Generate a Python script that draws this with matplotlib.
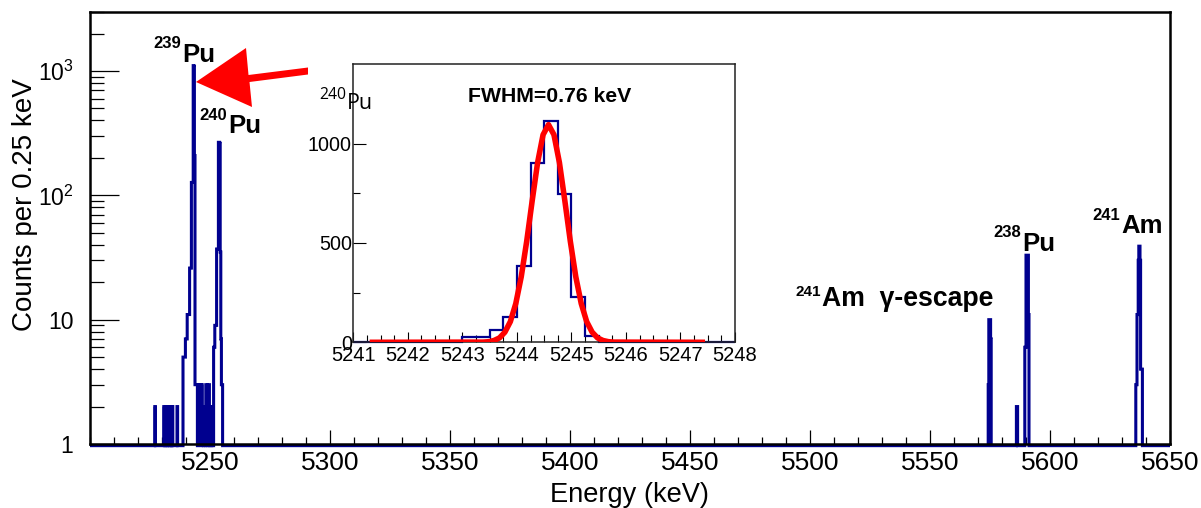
import numpy as np
import matplotlib
matplotlib.use("Agg")
import matplotlib.pyplot as plt
from matplotlib.ticker import FixedLocator, FixedFormatter, MultipleLocator, NullFormatter
from matplotlib.patches import Polygon

plt.rcParams['font.family'] = ['Liberation Sans', 'DejaVu Sans']
plt.rcParams['mathtext.fontset'] = 'custom'
plt.rcParams['mathtext.rm'] = 'Liberation Sans'
plt.rcParams['mathtext.it'] = 'Liberation Sans:italic'
plt.rcParams['mathtext.bf'] = 'Liberation Sans:bold'

# ---------------- data ----------------
bin_width_keV = 0.25
energy_min, energy_max = 5200.0, 5650.0

# main spectrum: left edge of every non-empty 0.25 keV bin and its counts
main_bin_start = [
    5227.00, 5230.75, 5231.50, 5232.25, 5233.00, 5233.75, 5234.25, 5236.25,
    5238.75, 5239.00, 5239.25, 5239.50, 5239.75, 5240.00, 5240.25,
    5240.50, 5240.75, 5241.00, 5241.25, 5241.50, 5241.75, 5242.00,
    5242.25, 5242.50, 5242.75, 5243.00, 5243.25, 5243.50, 5243.75, 5244.00,
    5244.25, 5244.50, 5245.00, 5245.25, 5245.50, 5245.75, 5246.00,
    5246.50, 5246.75, 5247.00, 5247.50, 5247.75, 5248.25, 5248.50,
    5248.75, 5249.25, 5249.50, 5250.00, 5250.25, 5250.75, 5251.00,
    5251.50, 5251.75, 5252.00, 5252.25, 5252.50, 5252.75, 5253.00, 5253.25,
    5253.50, 5253.75, 5254.00, 5254.25, 5254.50, 5254.75, 5255.00,
    5574.25, 5574.50, 5574.75, 5575.00, 5575.25,
    5586.00, 5586.25,
    5589.50, 5589.75, 5590.00, 5590.25, 5590.50, 5590.75, 5591.00,
    5635.75, 5636.00, 5636.25, 5636.50, 5636.75, 5637.00, 5637.25, 5637.50,
    5637.75, 5638.00, 5638.25,
]
main_bin_counts = [
    2, 2, 2, 2, 2, 2, 2, 2,
    5, 5, 5, 5, 7, 7, 7,
    11, 11, 11, 11, 26, 26, 26,
    127, 127, 127, 1105, 1090, 209, 3, 3,
    3, 3, 3, 3, 2, 3, 3,
    3, 2, 2, 2, 2, 3, 3,
    2, 3, 3, 2, 2, 2, 2,
    6, 6, 9, 9, 9, 37, 37, 37,
    267, 267, 262, 35, 7, 3, 3,
    3, 10, 10, 10, 7,
    2, 2,
    6, 6, 33, 33, 33, 33, 11,
    3, 3, 11, 11, 30, 39, 39, 30,
    4, 4, 4,
]

# inset: 239Pu peak, 0.25 keV bins
inset_min, inset_max = 5241.0, 5248.0
inset_bin_start = [5243.00, 5243.25, 5243.50, 5243.75, 5244.00,
                   5244.25, 5244.50, 5244.75, 5245.00, 5245.25]
inset_bin_counts = [28, 28, 62, 129, 384, 901, 1111, 745, 226, 34]

# red fit curve
fit_energy = [5241.30, 5243.38, 5243.48, 5243.58, 5243.68, 5243.78, 5243.88,
              5243.98, 5244.08, 5244.18, 5244.28, 5244.38, 5244.48, 5244.58,
              5244.68, 5244.78, 5244.88, 5244.98, 5245.08, 5245.18, 5245.28,
              5245.38, 5245.48, 5245.58, 5245.68, 5245.78, 5247.45]
fit_counts = [0, 1, 3, 9, 22, 51, 104, 195, 330, 508, 711, 904, 1044, 1095,
              1044, 904, 711, 508, 330, 195, 104, 51, 22, 9, 3, 1, 0]

main_xticks = [5250, 5300, 5350, 5400, 5450, 5500, 5550, 5600, 5650]
main_yticks = [1, 10, 100, 1000]
main_ytick_labels = ['1', '10', r'$10^{2}$', r'$10^{3}$']
inset_xticks = [5241, 5242, 5243, 5244, 5245, 5246, 5247, 5248]
inset_yticks = [0, 500, 1000]

# ---------------- figure ----------------
W, H = 1201, 508
fig = plt.figure(figsize=(W / 100, H / 100), dpi=100)
fig.patch.set_facecolor('white')


def fx(px):
    return px / W


def fy(py):
    return 1 - py / H


blue = '#00008f'

# main axes (pixel frame: x 90..1170, y 11.7..444)
ax = fig.add_axes([fx(90), fy(444), 1080 / W, 432.3 / H])
edges = np.arange(energy_min, energy_max + bin_width_keV / 2, bin_width_keV)
counts = np.zeros(len(edges) - 1)
idx = np.rint((np.array(main_bin_start) - energy_min) / bin_width_keV).astype(int)
counts[idx] = main_bin_counts
draw_vals = np.where(counts > 0, counts, 0.97)
ax.stairs(draw_vals, edges, baseline=None, color=blue, lw=2.2, clip_on=False, zorder=2)

ax.set_yscale('log')
ax.set_xlim(energy_min, energy_max)
ax.set_ylim(1, 3000)
ax.xaxis.set_major_locator(FixedLocator(main_xticks))
ax.xaxis.set_minor_locator(MultipleLocator(10))
ax.yaxis.set_major_locator(FixedLocator(main_yticks))
ax.yaxis.set_major_formatter(FixedFormatter(main_ytick_labels))
ax.yaxis.set_minor_locator(FixedLocator([m * d for d in (1, 10, 100, 1000) for m in range(2, 10)]))
ax.yaxis.set_minor_formatter(NullFormatter())
ax.tick_params(axis='x', which='major', direction='in', length=10, width=0.9, labelsize=19, pad=5, top=False)
ax.tick_params(axis='x', which='minor', direction='in', length=5, width=0.9, top=False)
ax.tick_params(axis='y', which='major', direction='in', length=21, width=0.9, labelsize=16.5, pad=12, right=False)
ax.tick_params(axis='y', which='minor', direction='in', length=10, width=0.9, right=False)
for s in ax.spines.values():
    s.set_linewidth(1.8)
    s.set_zorder(3)

ax.set_xlabel('Energy (keV)', fontsize=19.6)
ax.xaxis.set_label_coords(0.5, -0.134)
ax.xaxis.label.set_va('baseline')
ax.set_ylabel('Counts per 0.25 keV', fontsize=20)
ax.yaxis.set_label_coords(-0.0602, 0.553)
ax.yaxis.label.set_va('center')


def iso_label(sup, main, x_main, base_main, base_sup, size_main=18.5, size_sup=12,
              weight='bold', family=None):
    kw = {} if family is None else {'family': family}
    fig.text(fx(x_main), fy(base_main), main, ha='left', va='baseline',
             fontsize=size_main, fontweight=weight, **kw)
    fig.text(fx(x_main - 1), fy(base_sup), sup, ha='right', va='baseline',
             fontsize=size_sup, fontweight=weight, **kw)


iso_label('239', 'Pu', 182, 62, 48.5)
iso_label('240', 'Pu', 228, 133, 119.5)
iso_label('238', 'Pu', 1022, 251, 237)
iso_label('241', 'Am', 1121, 233, 219.5)
iso_label('241', 'Am  γ-escape', 822, 306, 295.5, size_main=19.2, size_sup=11)

# red arrow pointing to the 239Pu peak
arrow_px = [(196, 82), (246, 48), (248.5, 75), (308, 67.5), (308, 74.5),
            (249.5, 82), (252, 107)]
arrow = Polygon([(fx(x), fy(y)) for x, y in arrow_px], closed=True,
                transform=fig.transFigure, facecolor='#ff0000', edgecolor='none', zorder=1)
fig.add_artist(arrow)

# inset axes (pixel frame: x 353.3..735, y 64..342.3)
ax_in = fig.add_axes([fx(353.3), fy(342.3), 381.7 / W, 278.3 / H])
ax_in.set_facecolor('white')
in_edges = np.arange(inset_min, inset_max + bin_width_keV / 2, bin_width_keV)
in_counts = np.zeros(len(in_edges) - 1)
in_idx = np.rint((np.array(inset_bin_start) - inset_min) / bin_width_keV).astype(int)
in_counts[in_idx] = inset_bin_counts
ax_in.stairs(in_counts, in_edges, baseline=None, color=blue, lw=1.6, clip_on=False, zorder=2)
ax_in.plot(fit_energy, fit_counts, color='#ff0000', lw=4.0, solid_capstyle='butt', zorder=3)
ax_in.set_xlim(inset_min, inset_max)
ax_in.set_ylim(0, 1400)
ax_in.xaxis.set_major_locator(FixedLocator(inset_xticks))
ax_in.xaxis.set_minor_locator(MultipleLocator(0.25))
ax_in.yaxis.set_major_locator(FixedLocator(inset_yticks))
ax_in.yaxis.set_minor_locator(FixedLocator([250, 750]))
ax_in.tick_params(axis='x', which='major', direction='in', length=7, width=0.8, labelsize=14.5, pad=3, top=False)
ax_in.tick_params(axis='x', which='minor', direction='in', length=5, width=0.8, top=False)
ax_in.tick_params(axis='y', which='major', direction='in', length=9.5, width=0.8, labelsize=14.2, pad=1, right=False)
ax_in.tick_params(axis='y', which='minor', direction='in', length=5, width=0.8, right=False)
for s in ax_in.spines.values():
    s.set_linewidth(1.1)
    s.set_color('#222222')
ax_in.text(0.515, 0.8635, 'FWHM=0.76 keV', transform=ax_in.transAxes, ha='center',
           va='baseline', fontsize=15.3, fontweight='bold')

# stray 240Pu label over the inset's left edge
iso_label('240', 'Pu', 347, 109, 99, size_main=15.4, size_sup=11.3, weight='normal',
          family='Open Sans')

fig.savefig('out.png', dpi=100)
